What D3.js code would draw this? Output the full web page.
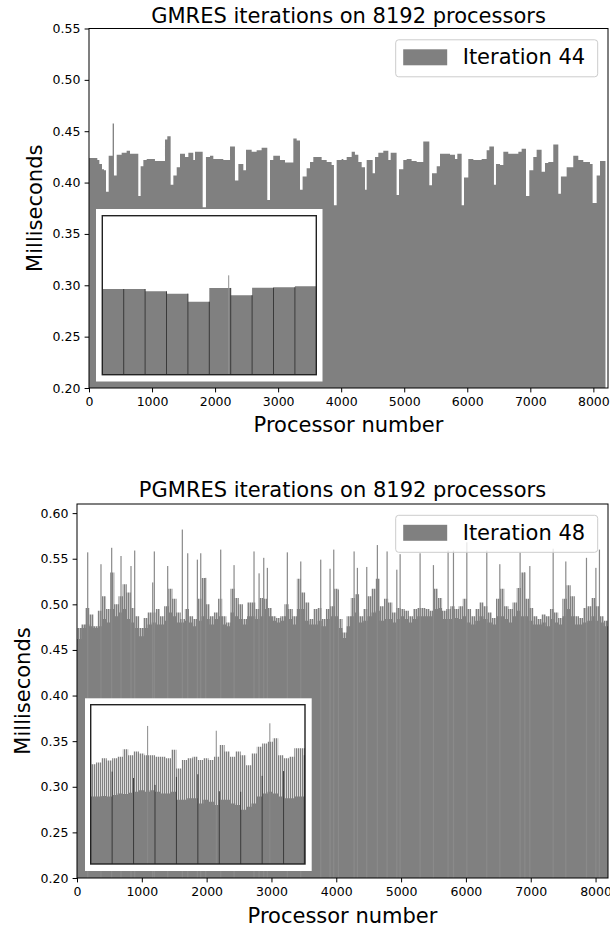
<!DOCTYPE html>
<html>
<head>
<meta charset="utf-8">
<script src="https://cdn.jsdelivr.net/npm/d3@7/dist/d3.min.js"></script>
<style>
    body { margin: 0; background: #fff; }
    svg text { font-family: "DejaVu Sans", sans-serif; fill: #000; }
</style>
</head>
<body>
<div id="chart"></div>
<script>
// ---- data ----

// GMRES, iteration 44: step profile as [first processor, milliseconds], each step runs to the next one
const gmresSteps = [
    [0,0.424],[132,0.422],[164,0.418],[206,0.413],[238,0.412],[270,0.391],[312,0.426],[375,0.4575],[396,0.407],[439,0.427],
    [518,0.429],[597,0.431],[650,0.428],[730,0.428],[782,0.387],[819,0.416],[862,0.422],[915,0.423],[993,0.423],[1046,0.421],
    [1205,0.442],[1242,0.445],[1295,0.398],[1338,0.407],[1391,0.415],[1443,0.428],[1523,0.425],[1576,0.429],[1654,0.422],[1681,0.430],
    [1803,0.376],[1855,0.425],[1919,0.426],[1972,0.423],[2130,0.422],[2237,0.435],[2315,0.402],[2369,0.418],[2448,0.412],[2490,0.432],
    [2580,0.430],[2659,0.4315],[2738,0.434],[2828,0.383],[2871,0.422],[2923,0.426],[3029,0.422],[3109,0.4195],[3241,0.443],[3294,0.441],
    [3347,0.393],[3388,0.406],[3452,0.414],[3505,0.420],[3558,0.425],[3690,0.422],[3770,0.420],[3848,0.417],[3885,0.378],[3928,0.422],
    [4007,0.423],[4034,0.422],[4087,0.425],[4166,0.430],[4218,0.427],[4272,0.420],[4325,0.415],[4378,0.393],[4404,0.422],[4499,0.409],
    [4536,0.425],[4589,0.429],[4668,0.431],[4748,0.422],[4785,0.429],[4879,0.388],[4917,0.413],[4985,0.422],[5038,0.423],[5117,0.421],
    [5197,0.420],[5302,0.440],[5398,0.3975],[5440,0.409],[5515,0.416],[5567,0.428],[5646,0.428],[5726,0.427],[5805,0.423],[5842,0.428],
    [5911,0.378],[5948,0.405],[6016,0.423],[6096,0.422],[6228,0.423],[6307,0.4315],[6350,0.435],[6423,0.398],[6455,0.418],[6519,0.417],
    [6572,0.430],[6650,0.428],[6730,0.428],[6810,0.430],[6862,0.433],[6931,0.387],[6984,0.412],[7047,0.425],[7100,0.432],[7179,0.4105],
    [7233,0.419],[7285,0.420],[7364,0.437],[7444,0.389],[7485,0.406],[7576,0.415],[7681,0.426],[7761,0.422],[7840,0.420],[7946,0.418],
    [7988,0.380],[8052,0.407],[8105,0.421]
];
const gmresLastProcessor = 8192;

// GMRES inset: ten groups of 64 processors
const gmresInsetGroups = [0.4078,0.4078,0.4049,0.4019,0.3918,0.4091,0.3999,0.4094,0.4099,0.4112];
const gmresInsetSpikes = [[378,0.425]];

// PGMRES, iteration 48: 64-processor bins, solid level and top of the thin bars
const pgmresBody = [
    0.462,0.474,0.478,0.476,0.474,0.476,0.484,0.480,0.495,0.487,
    0.491,0.495,0.484,0.480,0.474,0.465,0.474,0.478,0.480,0.478,
    0.478,0.482,0.491,0.487,0.480,0.480,0.482,0.480,0.476,0.482,
    0.487,0.484,0.478,0.484,0.487,0.478,0.476,0.491,0.487,0.484,
    0.478,0.487,0.487,0.484,0.487,0.495,0.487,0.482,0.480,0.482,
    0.487,0.484,0.478,0.495,0.495,0.482,0.478,0.478,0.482,0.476,
    0.484,0.487,0.487,0.474,0.463,0.476,0.487,0.491,0.480,0.482,
    0.487,0.491,0.493,0.482,0.484,0.484,0.480,0.484,0.487,0.484,
    0.480,0.484,0.487,0.487,0.487,0.487,0.495,0.496,0.484,0.484,
    0.484,0.485,0.484,0.487,0.480,0.478,0.482,0.487,0.484,0.480,
    0.478,0.487,0.487,0.484,0.480,0.487,0.493,0.487,0.487,0.482,
    0.478,0.478,0.480,0.476,0.484,0.480,0.478,0.487,0.495,0.487,
    0.478,0.478,0.480,0.482,0.487,0.482,0.480,0.476
];
const pgmresFringe = [
    0.474,0.478,0.496,0.489,0.476,0.493,0.509,0.495,0.535,0.500,
    0.509,0.522,0.513,0.496,0.487,0.474,0.485,0.491,0.491,0.495,
    0.487,0.498,0.517,0.506,0.491,0.484,0.495,0.487,0.484,0.506,
    0.529,0.500,0.487,0.491,0.506,0.487,0.480,0.517,0.507,0.500,
    0.484,0.502,0.502,0.495,0.507,0.506,0.496,0.487,0.485,0.487,
    0.500,0.495,0.487,0.528,0.513,0.502,0.484,0.495,0.496,0.484,
    0.495,0.498,0.517,0.484,0.469,0.487,0.507,0.511,0.487,0.495,
    0.509,0.517,0.528,0.498,0.506,0.502,0.491,0.496,0.495,0.493,
    0.487,0.495,0.496,0.496,0.495,0.493,0.517,0.507,0.493,0.495,
    0.498,0.495,0.498,0.506,0.495,0.487,0.495,0.502,0.498,0.491,
    0.485,0.506,0.517,0.498,0.495,0.502,0.518,0.535,0.506,0.496,
    0.487,0.484,0.489,0.487,0.495,0.491,0.485,0.506,0.521,0.509,
    0.487,0.485,0.496,0.498,0.507,0.498,0.487,0.482
];
const pgmresBinSize = 64;
// single tall processors: [processor, milliseconds]
const pgmresSpikes = [
    [165,0.557],[370,0.544],[535,0.562],[679,0.553],[833,0.542],[890,0.559],[1168,0.524],[1193,0.558],[1399,0.542],[1625,0.582],
    [1708,0.556],[1857,0.549],[1909,0.556],[1986,0.529],[2217,0.560],[2423,0.543],[2731,0.558],[2809,0.534],[2881,0.551],[2937,0.540],
    [3245,0.557],[3452,0.547],[3760,0.549],[3904,0.539],[3961,0.560],[4033,0.516],[4275,0.558],[4326,0.540],[4470,0.541],[4634,0.565],
    [4784,0.558],[4934,0.538],[4985,0.555],[5293,0.556],[5499,0.543],[5725,0.559],[5808,0.559],[6014,0.568],[6322,0.559],[6523,0.544],
    [6836,0.557],[6909,0.535],[6986,0.542],[7346,0.561],[7541,0.547],[7860,0.551],[8005,0.540],[8060,0.560]
];

// PGMRES inset: 16-processor bins over 640 processors
const pgmresInsetBody = [
    0.427,0.427,0.428,0.427,0.430,0.433,0.432,0.434,0.436,0.439,
    0.436,0.439,0.436,0.433,0.433,0.436,0.421,0.421,0.424,0.424,
    0.414,0.421,0.417,0.411,0.421,0.421,0.414,0.411,0.402,0.408,
    0.414,0.427,0.433,0.436,0.433,0.427,0.424,0.424,0.427,0.427
];
const pgmresInsetFringe = [
    0.488,0.491,0.499,0.495,0.499,0.502,0.516,0.505,0.512,0.508,
    0.505,0.505,0.502,0.502,0.499,0.515,0.480,0.496,0.499,0.502,
    0.496,0.499,0.496,0.502,0.524,0.512,0.502,0.512,0.505,0.486,
    0.508,0.521,0.527,0.530,0.537,0.505,0.499,0.502,0.518,0.518
];
const pgmresInsetSpikes = [[170,0.560],[375,0.551],[535,0.565]];
// first processor of each node, drawn darker
const pgmresInsetNodes = [[64,0.474],[128,0.462],[192,0.449],[256,0.464],[320,0.469],[384,0.437],[448,0.436],[512,0.466],[576,0.475],[638,0.505]];

const processorTicks = [0,1000,2000,3000,4000,5000,6000,7000,8000];
const gmresMsTicks = [0.20,0.25,0.30,0.35,0.40,0.45,0.50,0.55];
const pgmresMsTicks = [0.20,0.25,0.30,0.35,0.40,0.45,0.50,0.55,0.60];

var SOLVERPLOTS = SOLVERPLOTS || { };

SOLVERPLOTS.SETTINGS = {
    barColor: '#808080',
    tickFont: 12.5,
    labelFont: 21,
    gmres: {left: 89, right: 608, top: 28.5, bottom: 388, xMax: 8232, yDomain: [0.2, 0.55],
        title: 'GMRES iterations on 8192 processors', legend: 'Iteration 44',
        inset: {outer: [96, 209, 322.5, 381.5], frame: [102.3, 215.7, 316.3, 374.7], yDomain: [0.3, 0.5]}},
    pgmres: {left: 77, right: 608, top: 504, bottom: 878, xMax: 8192, yDomain: [0.2, 0.61],
        title: 'PGMRES iterations on 8192 processors', legend: 'Iteration 48',
        inset: {outer: [85, 698.3, 311.7, 871], frame: [90.7, 704.7, 305, 864], yDomain: [0.3, 0.6]}}
};

SOLVERPLOTS.GRAPHS = {
    makeScales: function(cfg){
        return {
            x: d3.scaleLinear().domain([0, cfg.xMax]).range([cfg.left, cfg.right]),
            y: d3.scaleLinear().domain(cfg.yDomain).range([cfg.bottom, cfg.top])
        };
    },

    addClip: function(svg, id, x0, y0, x1, y1){
        svg.append('clipPath').attr('id', id)
            .append('rect')
            .attr('x', x0).attr('y', y0)
            .attr('width', x1 - x0).attr('height', y1 - y0);
        return svg.append('g').attr('clip-path', `url(#${id})`);
    },

    //thin vertical stripes, looks like a crowd of 1px bars
    addHairPattern: function(svg, id, color, share){
        svg.append('pattern')
            .attr('id', id)
            .attr('patternUnits', 'userSpaceOnUse')
            .attr('width', 2).attr('height', 4)
            .append('rect')
            .attr('width', 2 * share).attr('height', 4)
            .attr('fill', color);
        return `url(#${id})`;
    },

    //adjacent bars as one stepped outline, so there are no seams between them
    drawRuns: function(g, runs, xScale, yScale, options = {}){
        const pts = runs.map(d => [d[0], d[2]]);
        const last = runs[runs.length - 1];
        pts.push([last[1], last[2]]);
        const area = d3.area()
            .curve(d3.curveStepAfter)
            .x(d => xScale(d[0]))
            .y0(yScale.range()[0])
            .y1(d => yScale(d[1]));
        return g.append('path')
            .datum(pts)
            .attr('d', area)
            .attr('fill', options.fill || SOLVERPLOTS.SETTINGS.barColor);
    },

    //bars from a list of [start, value] steps
    drawSteps: function(g, steps, end, xScale, yScale, options = {}){
        const runs = steps.map((d, i) => [d[0], i + 1 < steps.length ? steps[i + 1][0] : end, d[1]]);
        return SOLVERPLOTS.GRAPHS.drawRuns(g, runs, xScale, yScale, options);
    },

    //fixed-size bins
    drawBins: function(g, values, binSize, xScale, yScale, options = {}){
        const runs = values.map((v, i) => [i * binSize, (i + 1) * binSize, v]);
        return SOLVERPLOTS.GRAPHS.drawRuns(g, runs, xScale, yScale, options);
    },

    //single thin bars
    drawSpikes: function(g, spikes, xScale, yScale, options = {}){
        const base = yScale.range()[0];
        const w = options.width || 1.2;
        return g.selectAll(null)
            .data(spikes)
            .join('rect')
            .attr('x', d => xScale(d[0]) - w / 2)
            .attr('y', d => yScale(d[1]))
            .attr('width', w)
            .attr('height', d => base - yScale(d[1]))
            .attr('fill', options.fill || '#8a8a8a');
    },

    drawAxes: function(svg, cfg, scales, yTicks){
        const S = SOLVERPLOTS.SETTINGS;
        const xAxis = d3.axisBottom(scales.x).tickValues(processorTicks)
            .tickFormat(d3.format('d')).tickSize(4.4).tickPadding(4.6);
        const yAxis = d3.axisLeft(scales.y).tickValues(yTicks)
            .tickFormat(d3.format('.2f')).tickSize(4.4).tickPadding(4.2);

        const gx = svg.append('g').attr('transform', `translate(0,${cfg.bottom})`).call(xAxis);
        const gy = svg.append('g').attr('transform', `translate(${cfg.left},0)`).call(yAxis);
        [gx, gy].forEach(g => {
            g.select('.domain').remove();
            g.selectAll('line').attr('stroke', '#000').attr('stroke-width', 1);
            g.selectAll('text').attr('font-size', S.tickFont).attr('font-family', '"DejaVu Sans", sans-serif').attr('fill', '#000');
        });

        //frame round the plot
        svg.append('rect')
            .attr('x', cfg.left).attr('y', cfg.top)
            .attr('width', cfg.right - cfg.left).attr('height', cfg.bottom - cfg.top)
            .attr('fill', 'none').attr('stroke', '#000').attr('stroke-width', 1);
    },

    addText: function(svg, text, x, y, size, options = {}){
        const t = svg.append('text')
            .attr('x', x).attr('y', y)
            .attr('font-size', size)
            .attr('text-anchor', options.anchor || 'middle')
            .text(text);
        if(options.rotate){
            t.attr('transform', `rotate(-90,${x},${y})`);
        }
        return t;
    },

    drawLegend: function(svg, cfg, label){
        const S = SOLVERPLOTS.SETTINGS;
        const top = cfg.top + 11.3;
        const right = cfg.right - 10.3;
        const w = 202, h = 37;
        const g = svg.append('g');
        g.append('rect')
            .attr('x', right - w).attr('y', top)
            .attr('width', w).attr('height', h)
            .attr('rx', 3)
            .attr('fill', '#fff').attr('fill-opacity', 0.8)
            .attr('stroke', '#cccccc').attr('stroke-width', 1);
        g.append('rect')
            .attr('x', right - w + 7.5).attr('y', top + 9.5)
            .attr('width', 44).attr('height', 16)
            .attr('fill', S.barColor);
        SOLVERPLOTS.GRAPHS.addText(g, label, right - w + 67, top + 24.5, S.labelFont, {anchor: 'start'});
        return g;
    },

    //white box with a framed little chart inside
    drawInsetBox: function(svg, inset, id){
        const o = inset.outer, f = inset.frame;
        svg.append('rect')
            .attr('x', o[0]).attr('y', o[1])
            .attr('width', o[2] - o[0]).attr('height', o[3] - o[1])
            .attr('fill', '#fff');
        const scales = {
            x: d3.scaleLinear().domain([0, 640]).range([f[0], f[2]]),
            y: d3.scaleLinear().domain(inset.yDomain).range([f[3], f[1]])
        };
        const g = SOLVERPLOTS.GRAPHS.addClip(svg, id, f[0], f[1], f[2], f[3]);
        return {g: g, scales: scales};
    },

    drawInsetFrame: function(svg, inset){
        const f = inset.frame;
        svg.append('rect')
            .attr('x', f[0]).attr('y', f[1])
            .attr('width', f[2] - f[0]).attr('height', f[3] - f[1])
            .attr('fill', 'none').attr('stroke', '#222').attr('stroke-width', 1.4);
    }
};

// ---- build the page ----
const S = SOLVERPLOTS.SETTINGS;
const G = SOLVERPLOTS.GRAPHS;

const svg = d3.select('#chart').append('svg')
    .attr('width', 610).attr('height', 930)
    .style('display', 'block');
const defs = svg.append('defs');
const hairMain = G.addHairPattern(defs, 'hair-main', S.barColor, 0.75);
const hairInset = G.addHairPattern(defs, 'hair-inset', S.barColor, 0.65);

// top panel: GMRES
const gc = S.gmres;
const gs = G.makeScales(gc);
const gPlot = G.addClip(svg, 'clip-gmres', gc.left, gc.top, gc.right, gc.bottom);
G.drawSteps(gPlot, gmresSteps, gmresLastProcessor, gs.x, gs.y);

const gIn = G.drawInsetBox(svg, gc.inset, 'clip-gmres-inset');
const gBlocks = gmresInsetGroups.map((v, i) => [i * 64, v]);
G.drawSteps(gIn.g, gBlocks, 640, gIn.scales.x, gIn.scales.y);
G.drawSpikes(gIn.g, gmresInsetSpikes, gIn.scales.x, gIn.scales.y, {width: 1, fill: '#909090'});
G.drawSpikes(gIn.g, gBlocks.slice(1).map((d, i) => [d[0], gmresInsetGroups[i]]), gIn.scales.x, gIn.scales.y, {width: 1, fill: '#3a3a3a'});
G.drawInsetFrame(svg, gc.inset);

G.drawAxes(svg, gc, gs, gmresMsTicks);
G.drawLegend(svg, gc, gc.legend);
G.addText(svg, gc.title, (gc.left + gc.right) / 2, 23, S.labelFont);
G.addText(svg, 'Processor number', (gc.left + gc.right) / 2, 431.5, S.labelFont);
G.addText(svg, 'Milliseconds', 42, (gc.top + gc.bottom) / 2, S.labelFont, {rotate: true});

// bottom panel: PGMRES
const pc = S.pgmres;
const ps = G.makeScales(pc);
const pPlot = G.addClip(svg, 'clip-pgmres', pc.left, pc.top, pc.right, pc.bottom);
G.drawBins(pPlot, pgmresFringe, pgmresBinSize, ps.x, ps.y, {fill: hairMain});
G.drawBins(pPlot, pgmresBody, pgmresBinSize, ps.x, ps.y);
G.drawSpikes(pPlot, pgmresSpikes, ps.x, ps.y);

const pIn = G.drawInsetBox(svg, pc.inset, 'clip-pgmres-inset');
G.drawBins(pIn.g, pgmresInsetFringe, 16, pIn.scales.x, pIn.scales.y, {fill: hairInset});
G.drawBins(pIn.g, pgmresInsetBody, 16, pIn.scales.x, pIn.scales.y);
G.drawSpikes(pIn.g, pgmresInsetSpikes, pIn.scales.x, pIn.scales.y, {width: 1, fill: '#8a8a8a'});
G.drawSpikes(pIn.g, pgmresInsetNodes, pIn.scales.x, pIn.scales.y, {width: 1, fill: '#3a3a3a'});
G.drawInsetFrame(svg, pc.inset);

G.drawAxes(svg, pc, ps, pgmresMsTicks);
G.drawLegend(svg, pc, pc.legend);
G.addText(svg, pc.title, (pc.left + pc.right) / 2, 497, S.labelFont);
G.addText(svg, 'Processor number', (pc.left + pc.right) / 2, 923, S.labelFont);
G.addText(svg, 'Milliseconds', 30, (pc.top + pc.bottom) / 2, S.labelFont, {rotate: true});
</script>
</body>
</html>
